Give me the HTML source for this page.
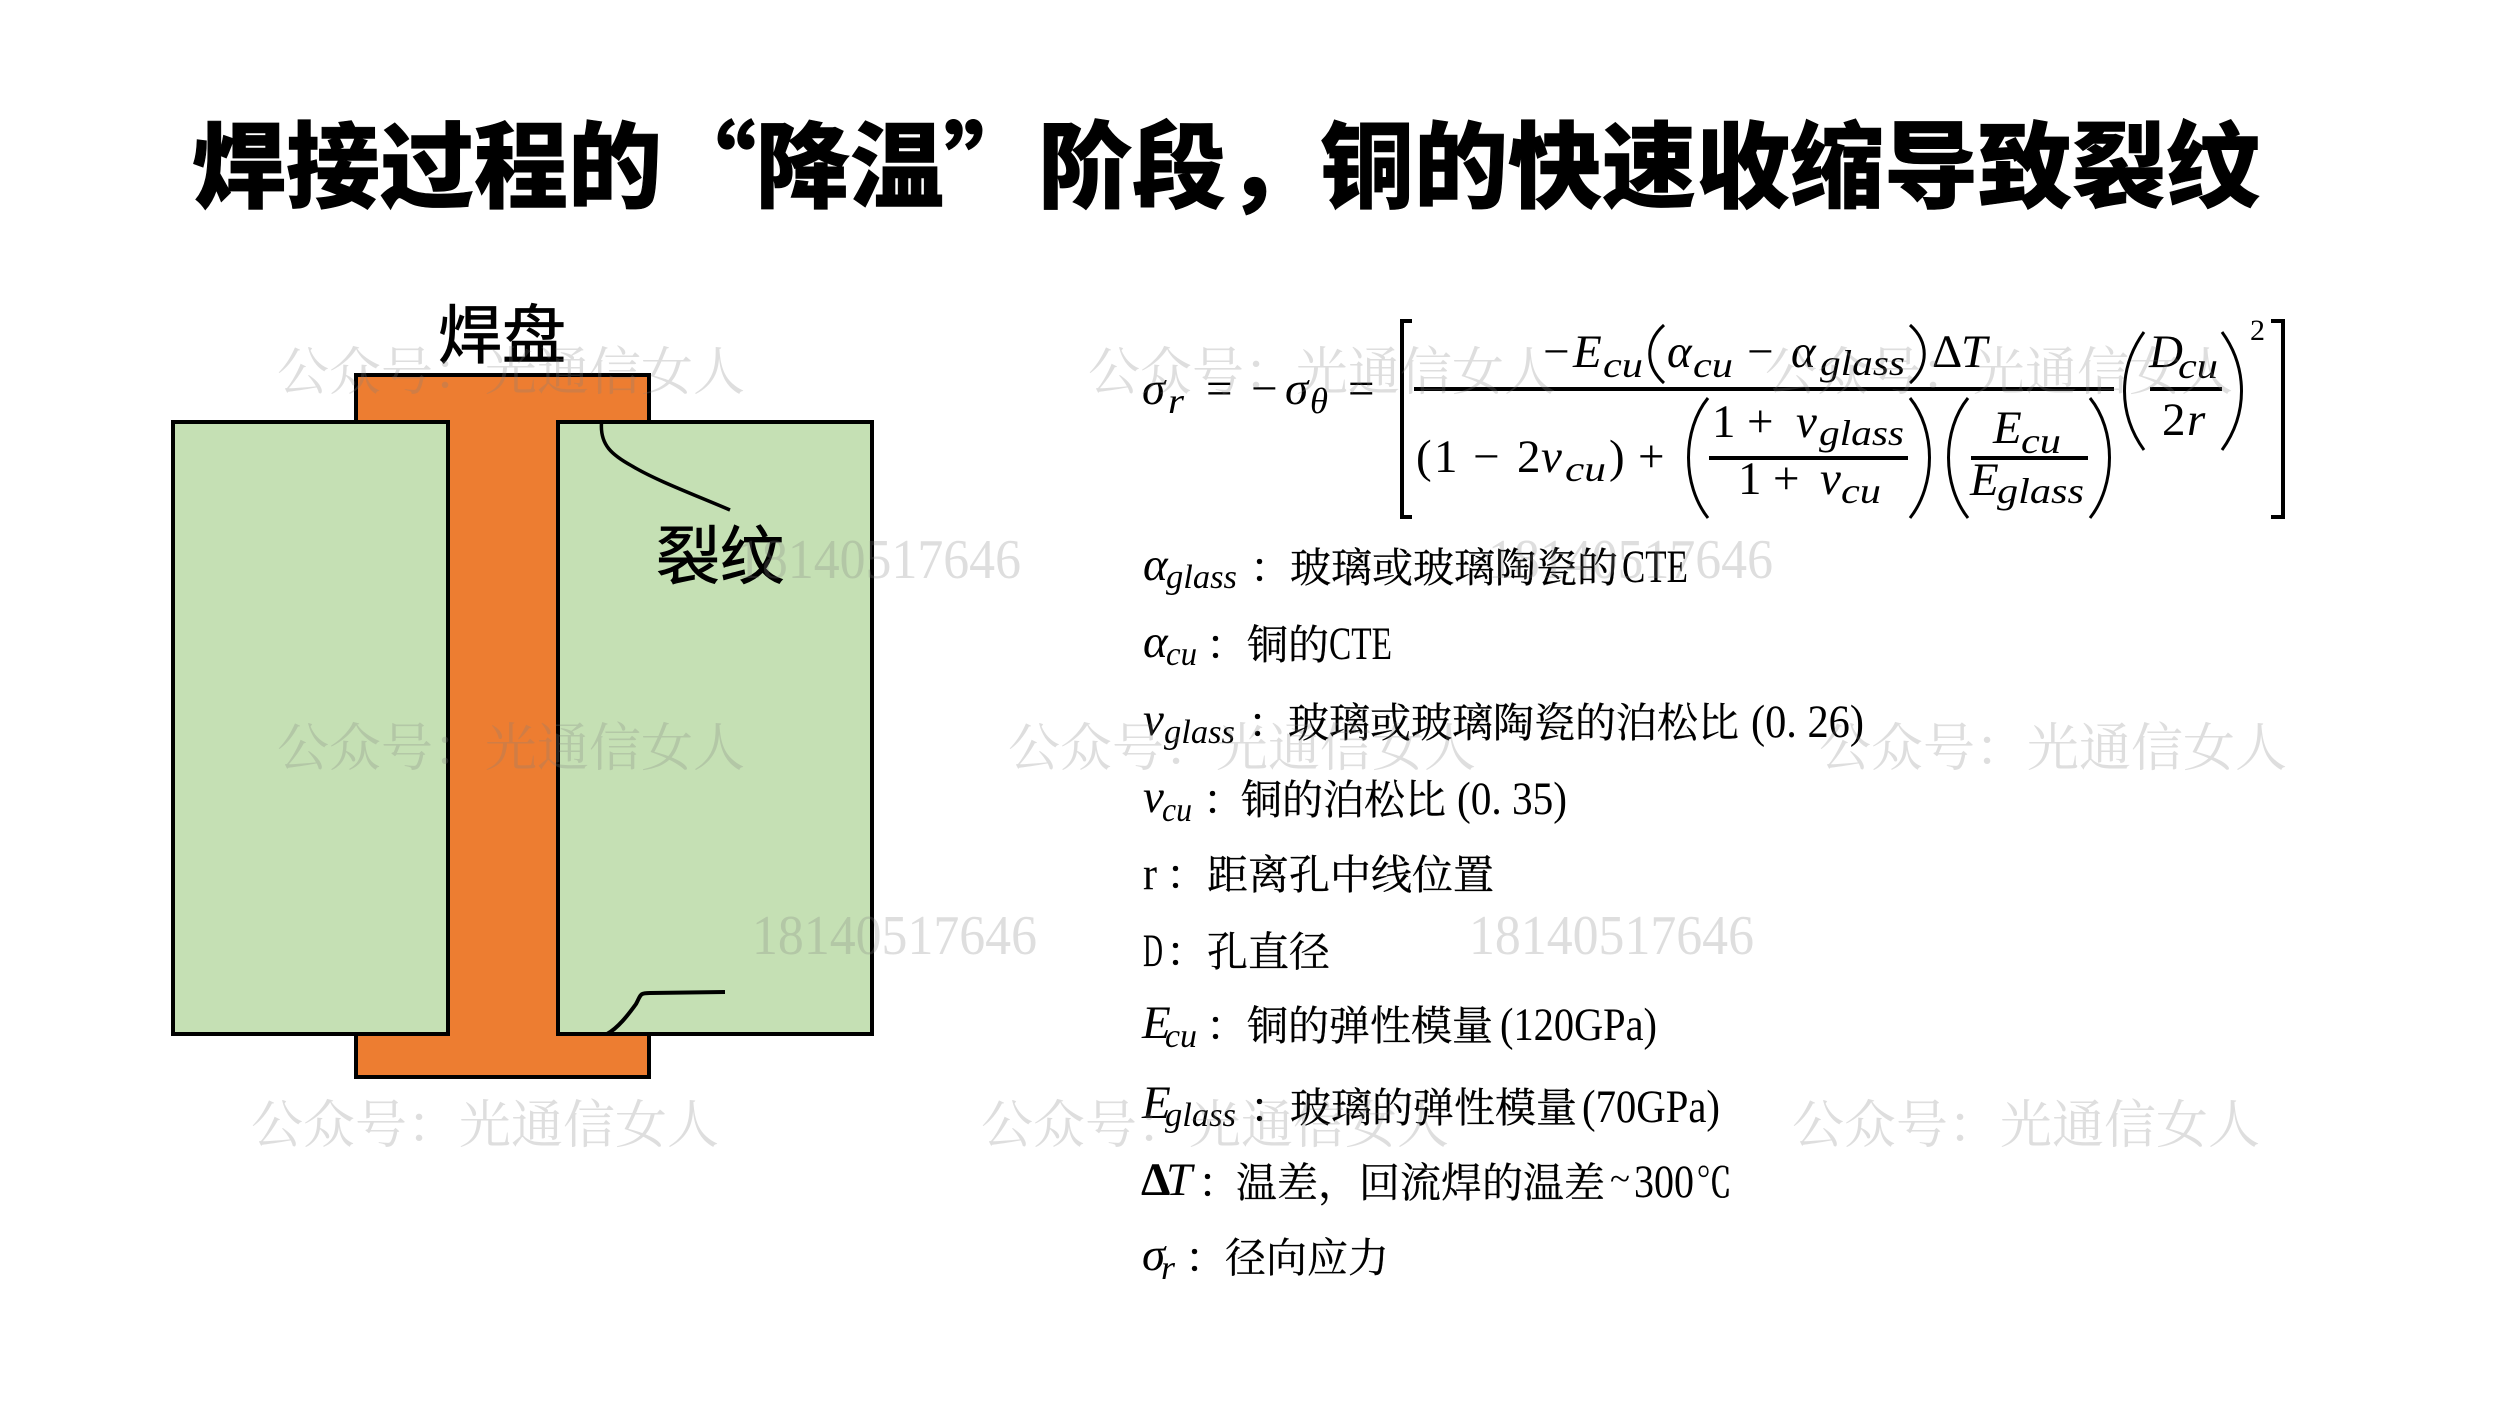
<!DOCTYPE html>
<html lang="zh-CN"><head><meta charset="utf-8"><title>焊接过程的“降温”阶段</title>
<style>
html,body{margin:0;padding:0;background:#fff;width:2500px;height:1406px;overflow:hidden}
svg{display:block;position:absolute;left:0;top:0}
.c{font-family:"Noto Serif CJK SC",serif;font-size:41px;fill:#000;stroke:#000;stroke-width:.3}
.l{font-family:"Liberation Serif",serif;font-size:47px;fill:#000}
.m{font-family:"Liberation Serif",serif;font-style:italic;font-size:47px;fill:#000}
.n{font-family:"Liberation Serif",serif;font-size:47px;fill:#000}
.b{font-family:"Liberation Serif",serif;font-style:italic;font-size:36px;fill:#000}
.d{font-family:"Liberation Serif",serif;font-style:italic;font-size:34px;fill:#000}
.h{font-family:"Noto Sans CJK SC",sans-serif;font-size:64px;fill:#000;stroke:#000;stroke-width:.8}
.w{font-family:"Noto Serif CJK SC",serif;font-size:52px;fill:#808080;fill-opacity:.26}
.x{font-family:"Liberation Serif",serif;font-size:56px;fill:#808080;fill-opacity:.26}
.p{fill:none;stroke:#000;stroke-width:3}
.t{font-family:"Noto Sans CJK SC",sans-serif;font-weight:900;font-size:94px;fill:#000;stroke:#000;stroke-width:.6}
</style></head><body>
<svg width="2500" height="1406" viewBox="0 0 2500 1406" xmlns="http://www.w3.org/2000/svg">
<rect width="2500" height="1406" fill="#fff"/>
<text class="t" y="200" x="192 286 380 474 568 662 756 850 944 1038 1132 1226 1320 1414 1508 1602 1696 1790 1884 1978 2072 2166">焊接过程的“降温”阶段，铜的快速收缩导致裂纹</text>

<!-- structure -->
<rect x="173" y="422" width="275" height="612" fill="#C5E0B4" stroke="#000" stroke-width="4"/>
<rect x="558" y="422" width="314" height="612" fill="#C5E0B4" stroke="#000" stroke-width="4"/>
<polygon points="356,375 649,375 649,422 558,422 558,1034 649,1034 649,1077 356,1077 356,1034 448,1034 448,422 356,422" fill="#ED7D31" stroke="#000" stroke-width="4"/>
<path d="M601.500 423C600 445 612 455 632 466C655 480 695 495 730 510" fill="none" stroke="#000" stroke-width="3.500"/>
<path d="M607 1034C618 1028 628 1015 636 1004C641 995 639 993 650 993L725 992" fill="none" stroke="#000" stroke-width="4"/>
<text class="h" x="438" y="358">焊盘</text>
<text class="h" x="656" y="579">裂纹</text>

<!-- equation -->
<text class="m" x="1142" y="404">σ</text><text class="b" x="1168" y="413" textLength="16" lengthAdjust="spacingAndGlyphs">r</text>
<text class="n" x="1206" y="404">=</text>
<text class="n" x="1251" y="404">−</text>
<text class="m" x="1285" y="404">σ</text><text class="b" x="1310" y="413" textLength="18" lengthAdjust="spacingAndGlyphs">θ</text>
<text class="n" x="1348" y="404">=</text>
<path d="M1412 321H1402V517H1412" fill="none" stroke="#000" stroke-width="4"/>
<path d="M2271 321H2283V517H2271" fill="none" stroke="#000" stroke-width="4"/>
<rect x="1414" y="387" width="700" height="4"/>

<text class="n" x="1543" y="367">−</text>
<text class="m" x="1573" y="367">E</text><text class="b" x="1603" y="377" textLength="40" lengthAdjust="spacingAndGlyphs">cu</text>
<path class="p" d="M1664 325C1645 342 1645 366 1664 383"/>
<text class="m" x="1667" y="367">α</text><text class="b" x="1693" y="377" textLength="40" lengthAdjust="spacingAndGlyphs">cu</text>
<text class="n" x="1747" y="367">−</text>
<text class="m" x="1791" y="367">α</text><text class="b" x="1820" y="375" textLength="85" lengthAdjust="spacingAndGlyphs">glass</text>
<path class="p" d="M1910 325C1929 342 1929 366 1910 383"/>
<text class="n" x="1932" y="367">Δ</text><text class="m" x="1961" y="367">T</text>

<text class="n" x="1416" y="472">(</text><text class="n" x="1434" y="472">1</text>
<text class="n" x="1473" y="472">−</text>
<text class="n" x="1517" y="472">2</text>
<text class="m" x="1541" y="472">v</text><text class="b" x="1565" y="481" textLength="41" lengthAdjust="spacingAndGlyphs">cu</text>
<text class="n" x="1609" y="472">)</text>
<text class="n" x="1638" y="472">+</text>
<path class="p" d="M1708 398C1682 430 1682 485 1708 518"/>
<text class="n" x="1712" y="437">1</text>
<text class="n" x="1747" y="437">+</text>
<text class="m" x="1796" y="437">v</text><text class="b" x="1819" y="445" textLength="85" lengthAdjust="spacingAndGlyphs">glass</text>
<rect x="1709" y="456" width="199" height="4"/>
<text class="n" x="1738" y="494">1</text>
<text class="n" x="1773" y="494">+</text>
<text class="m" x="1820" y="494">v</text><text class="b" x="1841" y="503" textLength="40" lengthAdjust="spacingAndGlyphs">cu</text>
<path class="p" d="M1910 398C1936 430 1936 485 1910 518"/>
<path class="p" d="M1968 398C1942 430 1942 485 1968 518"/>
<text class="m" x="1993" y="443">E</text><text class="b" x="2021" y="453" textLength="40" lengthAdjust="spacingAndGlyphs">cu</text>
<rect x="1971" y="456" width="117" height="4"/>
<text class="m" x="1970" y="495">E</text><text class="b" x="1997" y="503" textLength="87" lengthAdjust="spacingAndGlyphs">glass</text>
<path class="p" d="M2090 398C2116 430 2116 485 2090 518"/>
<path class="p" d="M2144 332C2118 368 2118 414 2144 450"/>
<text class="m" x="2149" y="367">D</text><text class="b" x="2178" y="378" textLength="40" lengthAdjust="spacingAndGlyphs">cu</text>
<rect x="2150" y="387" width="72" height="4"/>
<text class="n" x="2162" y="435">2</text><text class="m" x="2187" y="435">r</text>
<path class="p" d="M2222 332C2248 368 2248 414 2222 450"/>
<text class="n" style="font-size:30px" x="2250" y="340">2</text>

<!-- definitions -->
<text class="m" x="1143" y="580">α</text><text class="d" x="1166" y="588" textLength="71" lengthAdjust="spacingAndGlyphs">glass</text><text class="c" x="1250" y="582">：</text>
<text class="c" x="1290" y="582">玻璃或玻璃陶瓷的</text><text class="l" x="1622" y="582" textLength="66" lengthAdjust="spacingAndGlyphs">CTE</text>

<text class="m" x="1143" y="657">α</text><text class="d" x="1166" y="665" textLength="31" lengthAdjust="spacingAndGlyphs">cu</text><text class="c" x="1206" y="659">：</text>
<text class="c" x="1247" y="659">铜的</text><text class="l" x="1329" y="659" textLength="63" lengthAdjust="spacingAndGlyphs">CTE</text>

<text class="m" x="1143" y="735">v</text><text class="d" x="1164" y="743" textLength="71" lengthAdjust="spacingAndGlyphs">glass</text><text class="c" x="1248" y="737">：</text>
<text class="c" x="1288" y="737">玻璃或玻璃陶瓷的泊松比</text><text class="l" x="1751" y="737" textLength="113" lengthAdjust="spacingAndGlyphs">(0. 26)</text>

<text class="m" x="1143" y="812">v</text><text class="d" x="1162" y="821" textLength="30" lengthAdjust="spacingAndGlyphs">cu</text><text class="c" x="1203" y="814">：</text>
<text class="c" x="1241" y="814">铜的泊松比</text><text class="l" x="1457" y="814" textLength="110" lengthAdjust="spacingAndGlyphs">(0. 35)</text>

<text class="l" x="1143" y="889" textLength="14" lengthAdjust="spacingAndGlyphs">r</text><text class="c" x="1166" y="889">：</text><text class="c" x="1207" y="889">距离孔中线位置</text>
<text class="l" x="1143" y="966" textLength="20" lengthAdjust="spacingAndGlyphs">D</text><text class="c" x="1166" y="966">：</text><text class="c" x="1207" y="966">孔直径</text>

<text class="m" x="1142" y="1038">E</text><text class="d" x="1165" y="1047" textLength="32" lengthAdjust="spacingAndGlyphs">cu</text><text class="c" x="1206" y="1040">：</text>
<text class="c" x="1247" y="1040">铜的弹性模量</text><text class="l" x="1500" y="1040" textLength="157" lengthAdjust="spacingAndGlyphs">(120GPa)</text>

<text class="m" x="1142" y="1118">E</text><text class="d" x="1165" y="1126" textLength="71" lengthAdjust="spacingAndGlyphs">glass</text><text class="c" x="1250" y="1122">：</text>
<text class="c" x="1290" y="1122">玻璃的弹性模量</text><text class="l" x="1582" y="1122" textLength="138" lengthAdjust="spacingAndGlyphs">(70GPa)</text>

<text class="n" x="1141" y="1195" style="font-weight:bold">Δ</text><text class="m" x="1166" y="1195">T</text><text class="c" x="1198" y="1197">：</text>
<text class="c" x="1236" y="1197">温差，回流焊的温差</text>
<text class="l" x="1610" y="1190" textLength="20" lengthAdjust="spacingAndGlyphs" style="font-size:34px">~</text>
<text class="l" x="1634" y="1197" textLength="60" lengthAdjust="spacingAndGlyphs">300</text>
<text class="c" x="1696" y="1197" textLength="36" lengthAdjust="spacingAndGlyphs">℃</text>

<text class="m" x="1142" y="1270">σ</text><text class="d" x="1161" y="1279" textLength="14" lengthAdjust="spacingAndGlyphs">r</text><text class="c" x="1185" y="1272">：</text>
<text class="c" x="1225" y="1272">径向应力</text>

<!-- watermarks -->
<text class="w" x="277" y="390">公众号：光通信女人</text>
<text class="w" x="1088" y="390">公众号：光通信女人</text>
<text class="w" x="1765" y="390">公众号：光通信女人</text>
<text class="x" x="736" y="578" textLength="285" lengthAdjust="spacingAndGlyphs">18140517646</text>
<text class="x" x="1488" y="578" textLength="285" lengthAdjust="spacingAndGlyphs">18140517646</text>
<text class="w" x="277" y="766">公众号：光通信女人</text>
<text class="w" x="1008" y="766">公众号：光通信女人</text>
<text class="w" x="1819" y="766">公众号：光通信女人</text>
<text class="x" x="752" y="954" textLength="285" lengthAdjust="spacingAndGlyphs">18140517646</text>
<text class="x" x="1469" y="954" textLength="285" lengthAdjust="spacingAndGlyphs">18140517646</text>
<text class="w" x="251" y="1143">公众号：光通信女人</text>
<text class="w" x="981" y="1143">公众号：光通信女人</text>
<text class="w" x="1792" y="1143">公众号：光通信女人</text>
</svg>
</body></html>
